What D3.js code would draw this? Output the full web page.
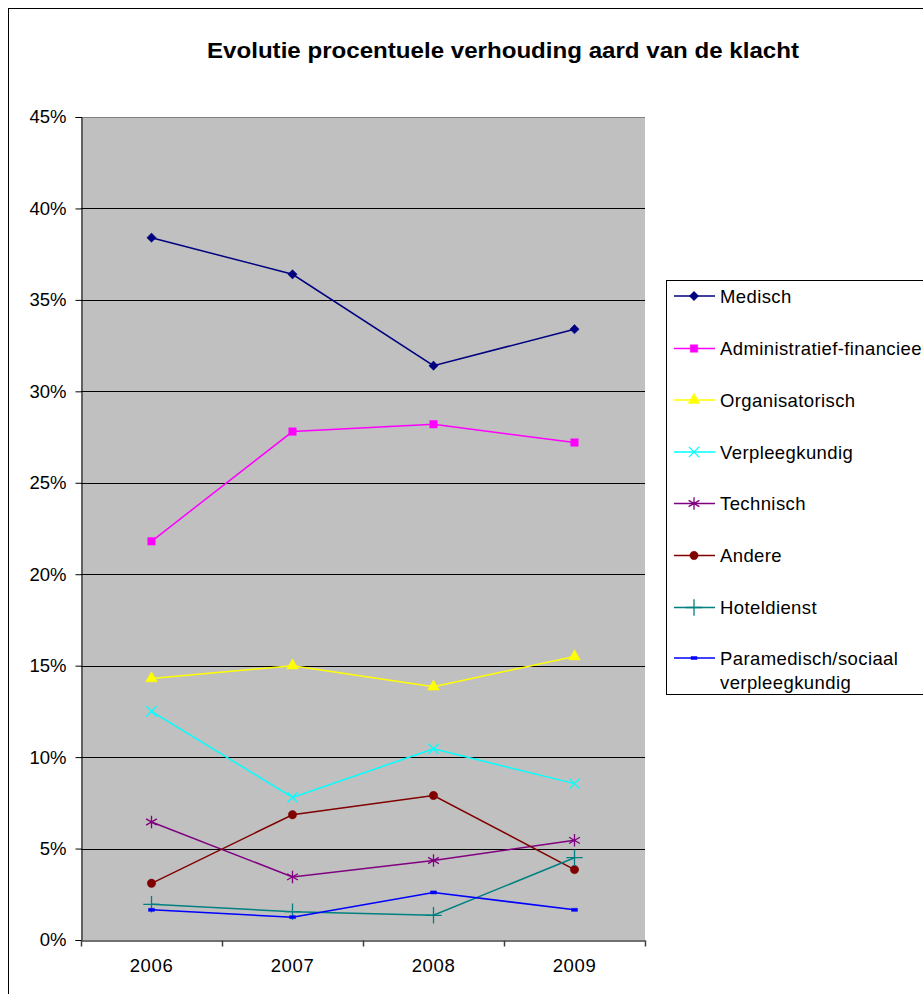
<!DOCTYPE html>
<html>
<head>
<meta charset="utf-8">
<script src="https://cdn.jsdelivr.net/npm/d3@7"></script>
<style>
  html, body { margin: 0; padding: 0; background: #fff; }
  svg { display: block; font-family: Arial, "Liberation Sans", sans-serif; }
</style>
</head>
<body>
<svg id="chart" width="923" height="994"></svg>
<script>
// Jaren en procentuele verdeling per aard van klacht
const years = ["2006", "2007", "2008", "2009"];
const seriesNames = [
  "Medisch", "Administratief-financieel", "Organisatorisch", "Verpleegkundig",
  "Technisch", "Andere", "Hoteldienst", "Paramedisch/sociaal verpleegkundig"
];
const medisch          = [38.4, 36.4, 31.4, 33.4];
const administratief   = [21.8, 27.8, 28.2, 27.2];
const organisatorisch  = [14.3, 15.0, 13.85, 15.5];
const verpleegkundig   = [12.5, 7.8, 10.45, 8.55];
const technisch        = [6.45, 3.45, 4.35, 5.45];
const andere           = [3.1, 6.85, 7.9, 3.85];
const hoteldienst      = [1.95, 1.55, 1.35, 4.5];
const paramedisch      = [1.65, 1.25, 2.6, 1.65];
const yTicks = [0, 5, 10, 15, 20, 25, 30, 35, 40, 45];

const seriesValues = [medisch, administratief, organisatorisch, verpleegkundig,
                      technisch, andere, hoteldienst, paramedisch];
const colors = ["#000080", "#ff00ff", "#ffff00", "#00ffff",
                "#800080", "#800000", "#008080", "#0000ff"];

const FONT = "Arial, 'Liberation Sans', sans-serif";

// marker shapes
const dashSymbol = { draw(ctx, size) { ctx.rect(-3, -1.5, 6, 3); } };
const markers = [
  { type: d3.symbolDiamond2, size: 55, fill: true },
  { type: d3.symbolSquare, size: 56, fill: true },
  { type: d3.symbolTriangle, size: 60, fill: true },
  { type: d3.symbolTimes, size: 70, fill: false },
  { type: d3.symbolAsterisk, size: 110, fill: false },
  { type: d3.symbolCircle, size: 55, fill: true },
  { type: d3.symbolPlus, size: 90, fill: false },
  { type: dashSymbol, size: 20, fill: true }
];

const svg = d3.select("#chart");

// chart frame
svg.append("rect")
  .attr("x", 8.5).attr("y", 8.5).attr("width", 1000).attr("height", 1000)
  .attr("fill", "#fff").attr("stroke", "#000").attr("stroke-width", 1);

// title
svg.append("text")
  .attr("x", 503).attr("y", 58)
  .attr("text-anchor", "middle")
  .attr("font-size", 22).attr("font-weight", "bold")
  .attr("textLength", 592).attr("lengthAdjust", "spacingAndGlyphs")
  .text("Evolutie procentuele verhouding aard van de klacht");

const plot = { left: 81, right: 645, top: 117, bottom: 940 };

const x = d3.scaleBand().domain(years).range([plot.left, plot.right]).padding(0);
const y = d3.scaleLinear().domain([0, 45]).range([plot.bottom, plot.top]);

// plot area
svg.append("rect")
  .attr("x", plot.left).attr("y", plot.top)
  .attr("width", plot.right - plot.left).attr("height", plot.bottom - plot.top)
  .attr("fill", "#c0c0c0");

// gridlines
svg.append("g").selectAll("line")
  .data(yTicks.filter(d => d > 0))
  .join("line")
  .attr("x1", plot.left).attr("x2", plot.right)
  .attr("y1", d => Math.round(y(d)) + 0.5).attr("y2", d => Math.round(y(d)) + 0.5)
  .attr("stroke", d => d === 45 ? "#808080" : "#000").attr("stroke-width", 1);

// y axis
const yAxis = d3.axisLeft(y).tickValues(yTicks).tickSize(6).tickPadding(9)
  .tickFormat(d => d + "%");
const gy = svg.append("g").attr("transform", `translate(${plot.left + 0.5},0)`).call(yAxis);
gy.select(".domain").attr("stroke", "#000");
gy.selectAll(".tick line").attr("stroke", "#000");
gy.selectAll(".tick text").attr("font-size", 18.5).attr("fill", "#000")
  .attr("font-family", FONT);

// x axis
const xAxis = d3.axisBottom(x).tickSize(0).tickPadding(18);
const gx = svg.append("g").attr("transform", `translate(0,${plot.bottom + 0.5})`).call(xAxis);
gx.select(".domain").attr("stroke", "#404040").attr("stroke-width", 1.5);
gx.selectAll(".tick text").attr("font-size", 18.5).attr("fill", "#000")
  .attr("font-family", FONT).attr("letter-spacing", 0.6);
// category boundary ticks
gx.append("g").selectAll("line")
  .data(years.concat(["end"]))
  .join("line")
  .attr("x1", (d, i) => Math.round(plot.left + i * x.bandwidth()) + 0.5)
  .attr("x2", (d, i) => Math.round(plot.left + i * x.bandwidth()) + 0.5)
  .attr("y1", 0).attr("y2", 6)
  .attr("stroke", "#404040").attr("stroke-width", 1.5);

const cx = d => x(d) + x.bandwidth() / 2;

// series lines and markers
const line = d3.line().x((d, i) => cx(years[i])).y(d => y(d));
seriesValues.forEach((vals, si) => {
  const g = svg.append("g");
  g.append("path")
    .attr("d", line(vals))
    .attr("fill", "none")
    .attr("stroke", colors[si]).attr("stroke-width", 1.5);
  const m = markers[si];
  const sym = d3.symbol().type(m.type).size(m.size);
  g.selectAll("path.mk")
    .data(vals)
    .join("path")
    .attr("class", "mk")
    .attr("transform", (d, i) => `translate(${cx(years[i])},${y(d)})`)
    .attr("d", sym())
    .attr("fill", m.fill ? colors[si] : "none")
    .attr("stroke", colors[si]).attr("stroke-width", m.fill ? 0.5 : 1.3);
});

// legend (its right side runs past the chart edge)
const legend = svg.append("g");
legend.append("rect")
  .attr("x", 666.5).attr("y", 280.5).attr("width", 300).attr("height", 414)
  .attr("fill", "#fff").attr("stroke", "#000").attr("stroke-width", 1);
const legendY = [296, 348.5, 400, 452, 503.5, 555.5, 607.5, 658];
seriesNames.forEach((name, si) => {
  const ly = legendY[si];
  legend.append("line")
    .attr("x1", 674).attr("x2", 715).attr("y1", ly).attr("y2", ly)
    .attr("stroke", colors[si]).attr("stroke-width", 1.5);
  const m = markers[si];
  legend.append("path")
    .attr("transform", `translate(694,${ly})`)
    .attr("d", d3.symbol().type(m.type).size(m.size)())
    .attr("fill", m.fill ? colors[si] : "none")
    .attr("stroke", colors[si]).attr("stroke-width", m.fill ? 0.5 : 1.3);
  const t = legend.append("text")
    .attr("x", 720).attr("y", ly + 6.5)
    .attr("font-size", 18.5).attr("letter-spacing", 0.4).attr("fill", "#000");
  if (si === 7) {
    t.append("tspan").attr("x", 720).text("Paramedisch/sociaal");
    t.append("tspan").attr("x", 720).attr("dy", 24).text("verpleegkundig");
  } else {
    t.text(name);
  }
});
</script>
</body>
</html>
